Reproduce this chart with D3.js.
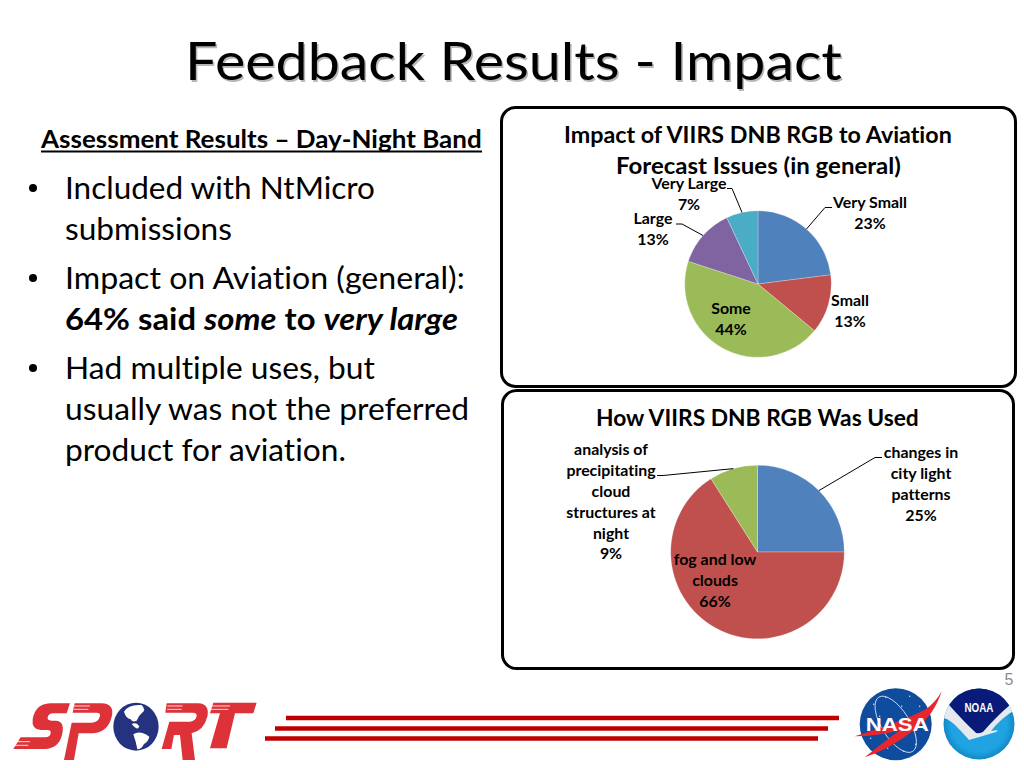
<!DOCTYPE html>
<html>
<head>
<meta charset="utf-8">
<script src="https://cdn.jsdelivr.net/npm/d3@7"></script>
<style>
html, body { margin: 0; padding: 0; background: #fff; }
svg { display: block; }
text { font-family: Lato, "Open Sans", sans-serif; fill: #000; font-variant-ligatures: none; }
</style>
</head>
<body>
<svg id="slide" width="1024" height="768"></svg>
<script>
'use strict';

// Chart data
var impact_labels = [['Very Small'], ['Small'], ['Some'], ['Large'], ['Very Large']];
var impact_values = [23, 13, 44, 13, 7];
var used_labels = [['changes in', 'city light', 'patterns'], ['fog and low', 'clouds'],
	['analysis of', 'precipitating', 'cloud', 'structures at', 'night']];
var used_values = [25, 66, 9];
var slice_colours = ['#4f81bd', '#c0504d', '#9bbb59', '#8064a2', '#4bacc6'];

// Where the labels go, same order as the values. elbow/end are the leader line, if any.
var impact_layout = [
	{x: 870, y: 208, elbow: [825, 207.5], end: [832, 207.5]},
	{x: 850, y: 306},
	{x: 731, y: 314},
	{x: 653, y: 224, elbow: [682, 224], end: [676, 224]},
	{x: 689, y: 189, elbow: [732, 188.5], end: [727, 188.5]}
];
var used_layout = [
	{x: 921, y: 458, elbow: [875, 457.5], end: [882, 457.5]},
	{x: 715, y: 565},
	{x: 611, y: 455, elbow: [663, 475.5], end: [657, 475.5]}
];

var bullet_lines = [
	{y: 199, width: 310, bullet: true, parts: [['Included with NtMicro']]},
	{y: 240, width: 167, parts: [['submissions']]},
	{y: 289, width: 400, bullet: true, parts: [['Impact on Aviation (general):']]},
	{y: 330, width: 393, parts: [['64% said ', 'b'], ['some', 'bi'], [' to ', 'b'], ['very large', 'bi']]},
	{y: 379, width: 310, bullet: true, parts: [['Had multiple uses, but']]},
	{y: 420, width: 404, parts: [['usually was not the preferred']]},
	{y: 461, width: 281, parts: [['product for aviation.']]}
];

var svg = d3.select('#slide');

// Draw a text and squeeze it to the width it has in the slide (Calibri is not installed)
function fitText(parent, str, x, y, width, size, bold, anchor) {
	var t = parent.append('text')
		.attr('font-size', size)
		.attr('font-weight', bold ? 700 : 400)
		.text(str);
	var len = t.node().getComputedTextLength();
	var left = anchor === 'middle' ? x - width / 2 : x;
	t.attr('transform', 'translate(' + left + ',' + y + ') scale(' + (width / len) + ',1)');
	return t;
}

function panel(x, y, w, h) {
	svg.append('rect')
		.attr('x', x).attr('y', y).attr('width', w).attr('height', h)
		.attr('rx', 14).attr('ry', 14)
		.attr('fill', '#fff').attr('stroke', '#000').attr('stroke-width', 3);
}

function plotPie(values, labels, layout, cx, cy, radius) {
	var g = svg.append('g').attr('transform', 'translate(' + cx + ',' + cy + ')');
	var arcs = d3.pie().sort(null)(values);
	var arc = d3.arc().innerRadius(0).outerRadius(radius);
	var rim = d3.arc().innerRadius(radius).outerRadius(radius);

	g.selectAll('path.slice')
		.data(arcs)
		.enter().append('path')
		.attr('class', 'slice')
		.attr('d', arc)
		.attr('fill', function(d, i) { return slice_colours[i]; })
		.attr('stroke', '#fff').attr('stroke-opacity', 0.5).attr('stroke-width', 0.5);

	// Leader lines run from the rim of the slice to the label
	arcs.forEach(function(d, i) {
		var place = layout[i];
		if (place.elbow) {
			var start = rim.centroid(d);
			svg.append('path')
				.attr('d', d3.line()([[cx + start[0], cy + start[1]], place.elbow, place.end]))
				.attr('fill', 'none').attr('stroke', '#000').attr('stroke-width', 1);
		}
		var text = svg.append('text')
			.attr('text-anchor', 'middle')
			.attr('font-size', 15.6)
			.attr('font-weight', 700)
			.attr('transform', 'translate(' + place.x + ',' + place.y + ') scale(1.02,1)');
		labels[i].concat([d.value + '%']).forEach(function(line, j) {
			text.append('tspan').attr('x', 0).attr('y', j * 20.9).text(line);
		});
	});
}

// Slide title, with its soft shadow
fitText(svg, 'Feedback Results - Impact', 186.5, 81.5, 657, 52, false).style('fill', '#9a9a9a').style('opacity', 0.7);
fitText(svg, 'Feedback Results - Impact', 185, 80, 657, 52, false);

// Left column
fitText(svg, 'Assessment Results \u2013 Day-Night Band', 41, 148, 441, 24.5, true);
svg.append('line')
	.attr('x1', 41).attr('x2', 482).attr('y1', 151.5).attr('y2', 151.5)
	.attr('stroke', '#000').attr('stroke-width', 1.8);

bullet_lines.forEach(function(line) {
	if (line.bullet) {
		svg.append('circle').attr('cx', 33).attr('cy', line.y - 11).attr('r', 4).attr('fill', '#000');
	}
	var t = svg.append('text').attr('font-size', 30.5);
	line.parts.forEach(function(p) {
		t.append('tspan')
			.attr('font-weight', p[1] ? 700 : 400)
			.attr('font-style', p[1] === 'bi' ? 'italic' : 'normal')
			.text(p[0]);
	});
	var len = t.node().getComputedTextLength();
	t.attr('transform', 'translate(65,' + line.y + ') scale(' + (line.width / len) + ',1)');
});

// Right column
panel(501.5, 107.5, 514, 279);
panel(502.5, 390.5, 511, 278);

fitText(svg, 'Impact of VIIRS DNB RGB to Aviation', 758, 143, 388, 22.5, true, 'middle');
fitText(svg, 'Forecast Issues (in general)', 758.5, 174, 285, 22.5, true, 'middle');
fitText(svg, 'How VIIRS DNB RGB Was Used', 757.5, 426, 323, 22.5, true, 'middle');

plotPie(impact_values, impact_labels, impact_layout, 758, 284, 73.3);
plotPie(used_values, used_labels, used_layout, 757.5, 552, 86.8);

// Page number
svg.append('text')
	.attr('x', 1009).attr('y', 685).attr('text-anchor', 'middle')
	.attr('font-size', 16).style('font-family', 'Liberation Sans').style('fill', '#8b8b8b')
	.text('5');

// Red bars in the footer
[[286, 839, 718], [275, 828, 728.5], [265, 818, 738.5]].forEach(function(b) {
	svg.append('line')
		.attr('x1', b[0]).attr('x2', b[1]).attr('y1', b[2]).attr('y2', b[2])
		.attr('stroke', '#c00000').attr('stroke-width', 4.5);
});

// SPORT logo, drawn in 3x units
var sport = svg.append('g').attr('transform', 'translate(0,680) scale(0.3333)');
var sport_red = '#dd3238';
[
	'M210 70 L200 100 L160 100 Q146 100 143 112 Q141 122 155 122 L168 122 Q196 124 186 165 Q176 205 135 207 L40 207 L62 172 L136 172 Q150 172 152 160 Q154 150 142 150 L122 150 Q94 148 98 118 Q106 72 150 70 Z',
	'M224 70 L305 70 Q345 72 335 110 Q325 155 280 160 L236 160 L222 240 L192 240 L215 128 L240 128 L276 128 Q296 126 300 108 Q302 98 290 98 L218 98 Z',
	'M500 70 L595 70 Q630 72 622 110 Q612 150 575 160 L585 240 L548 240 L540 165 L522 165 L514 207 L485 207 L508 125 L570 125 Q588 122 590 108 Q591 98 578 98 L496 98 Z',
	'M640 68 L770 68 L760 100 L705 100 L680 205 L630 205 L660 100 L630 100 Z'
].forEach(function(d) {
	sport.append('path').attr('d', d).attr('fill', sport_red);
});
// speed lines cut into the letters
[[40, 185, 90], [40, 196, 85], [222, 78, 270], [222, 88, 265], [502, 78, 548], [502, 88, 545], [632, 78, 690], [632, 88, 685]].forEach(function(s) {
	sport.append('line')
		.attr('x1', s[0]).attr('x2', s[2]).attr('y1', s[1]).attr('y2', s[1])
		.attr('stroke', '#fff').attr('stroke-width', 2.5);
});
sport.append('ellipse').attr('cx', 408).attr('cy', 140).attr('rx', 68).attr('ry', 72).attr('fill', '#24327f');
[
	'M372 95 Q385 72 425 75 Q440 90 425 100 Q415 108 410 122 Q396 128 392 118 Q378 115 372 95 Z',
	'M395 132 Q410 125 418 140 L412 146 Q400 140 395 132 Z',
	'M400 163 Q420 150 448 170 Q445 185 432 192 Q425 208 412 208 Q408 185 400 163 Z'
].forEach(function(d) {
	sport.append('path').attr('d', d).attr('fill', '#fff');
});

// NASA meatball
var defs = svg.append('defs');
var nasa = svg.append('g').attr('transform', 'translate(895.7,724.3)');
nasa.append('circle').attr('r', 36).attr('fill', '#0f4c9e');
nasa.append('ellipse').attr('rx', 14).attr('ry', 32).attr('transform', 'rotate(-32)')
	.attr('fill', 'none').attr('stroke', '#dfe8f5').attr('stroke-width', 0.8);
[[-22, -20], [-10, -27], [14, -28], [24, -18], [-25, 14], [20, 20], [8, 27], [-8, 24], [28, 4], [-16, -8], [6, -18]].forEach(function(s) {
	nasa.append('circle').attr('cx', s[0]).attr('cy', s[1]).attr('r', 0.7).attr('fill', '#dfe8f5');
});
nasa.append('path')
	.attr('d', 'M-41 12 Q5 -2 30 -15 Q40 -22 46 -33 Q38 -8 18 6 Q-6 25 -31 33 Q-12 18 4 6 Q-18 12 -41 12 Z')
	.attr('fill', '#e8262c');
fitText(nasa, 'NASA', -30, 6.4, 60, 18, true)
	.style('font-family', 'Liberation Sans').style('fill', '#fff').attr('font-weight', 700);

// NOAA logo
var noaa_blue = defs.append('radialGradient').attr('id', 'noaaBlue').attr('r', 0.55);
noaa_blue.append('stop').attr('offset', '70%').attr('stop-color', '#1fa3e2');
noaa_blue.append('stop').attr('offset', '100%').attr('stop-color', '#0c7ab8');
defs.append('clipPath').attr('id', 'noaaClip').append('circle').attr('r', 35.5);
var noaa = svg.append('g').attr('transform', 'translate(979,724)');
var noaa_inner = noaa.append('g').attr('clip-path', 'url(#noaaClip)');
noaa_inner.append('rect').attr('x', -36).attr('y', -36).attr('width', 72).attr('height', 72).attr('fill', 'url(#noaaBlue)');
noaa_inner.append('path')
	.attr('d', 'M-36 -36 L36 -36 L36 -22 L31 -19 Q18 -8 4 8 Q0 10 -3 9 Q-15 -2 -30 -19 L-36 -22 Z')
	.attr('fill', '#0a1a78');
noaa_inner.append('path')
	.attr('d', 'M-36 -22 L-30 -19 Q-15 -2 -3 9 Q0 10 4 8 Q18 -8 31 -19 L36 -22 L36 -14 Q22 -6 12 7 Q22 5 17 8 Q4 12 -10 16 Q-15 10 -25 0 Q-32 -6 -36 -6 Z')
	.attr('fill', '#e6e9ee');
fitText(noaa, 'NOAA', -14.5, -12, 29, 12, true)
	.style('font-family', 'Liberation Sans').style('fill', '#fff');
</script>
</body>
</html>
